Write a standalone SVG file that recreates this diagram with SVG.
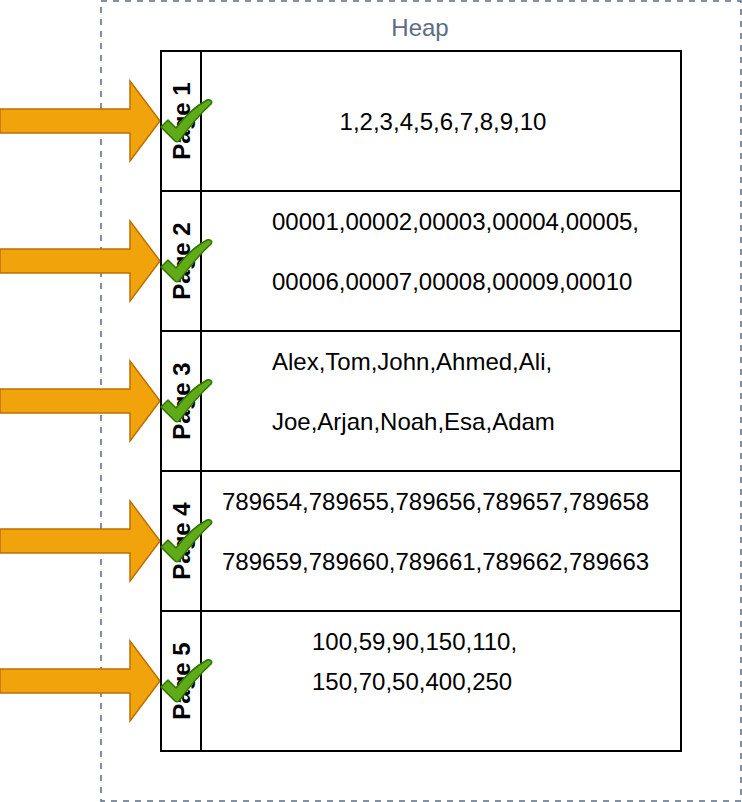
<svg xmlns="http://www.w3.org/2000/svg" width="742" height="802" viewBox="0 0 742 802">
<defs>
<style>
.t{font-family:"Liberation Sans",Arial,sans-serif;font-size:24px;fill:#000;dominant-baseline:central}
.pl{font-family:"Liberation Sans",Arial,sans-serif;font-size:24px;font-weight:bold;fill:#000;text-anchor:middle;dominant-baseline:central}
.cell{fill:#fff;stroke:#000;stroke-width:2}
.arrow{fill:#f0a30a;stroke:#bd7000;stroke-width:1.5}
.check{fill:#60a917;stroke:#2d7600;stroke-width:1.5;stroke-linejoin:round}
</style>
<path id="arr" d="M0,-12 H130 V-40 L160,0 L130,40 V12 H0 Z"/>
<path id="chk" d="M0,6 L7,-1 L15,7 C24,-5 35,-15 46,-21 C49,-22 52,-20 50,-17 C39,-7 28,6 18,20 C17,21 15,21 14,20 Z"/>
</defs>
<rect width="742" height="802" fill="#fff"/>
<g id="heap">
<rect x="101" y="1" width="640" height="800" fill="none" stroke="#5a6c86" stroke-width="1.5" stroke-dasharray="6,6"/>
<text x="420" y="27" style="font-family:'Liberation Sans',Arial,sans-serif;font-size:24px;fill:#5a6c86;text-anchor:middle;dominant-baseline:central">Heap</text>
</g>
<g id="connectors">
<use href="#arr" class="arrow" transform="translate(0,121)"/>
<use href="#arr" class="arrow" transform="translate(0,261)"/>
<use href="#arr" class="arrow" transform="translate(0,401)"/>
<use href="#arr" class="arrow" transform="translate(0,541)"/>
<use href="#arr" class="arrow" transform="translate(0,681)"/>
</g>
<g id="page1">
<rect class="cell" x="161" y="51" width="520" height="140"/>
<line x1="201" y1="51" x2="201" y2="191" stroke="#000" stroke-width="2"/>
<text class="pl" transform="translate(181,121) rotate(-90)">Page 1</text>
<text class="t" x="443" y="121" text-anchor="middle">1,2,3,4,5,6,7,8,9,10</text>
</g>
<g id="page2">
<rect class="cell" x="161" y="191" width="520" height="140"/>
<line x1="201" y1="191" x2="201" y2="331" stroke="#000" stroke-width="2"/>
<text class="pl" transform="translate(181,261) rotate(-90)">Page 2</text>
<text class="t" x="272" y="221">00001,00002,00003,00004,00005,</text>
<text class="t" x="272" y="281">00006,00007,00008,00009,00010</text>
</g>
<g id="page3">
<rect class="cell" x="161" y="331" width="520" height="140"/>
<line x1="201" y1="331" x2="201" y2="471" stroke="#000" stroke-width="2"/>
<text class="pl" transform="translate(181,401) rotate(-90)">Page 3</text>
<text class="t" x="272" y="361">Alex,Tom,John,Ahmed,Ali,</text>
<text class="t" x="272" y="421">Joe,Arjan,Noah,Esa,Adam</text>
</g>
<g id="page4">
<rect class="cell" x="161" y="471" width="520" height="140"/>
<line x1="201" y1="471" x2="201" y2="611" stroke="#000" stroke-width="2"/>
<text class="pl" transform="translate(181,541) rotate(-90)">Page 4</text>
<text class="t" x="222" y="501">789654,789655,789656,789657,789658</text>
<text class="t" x="222" y="561">789659,789660,789661,789662,789663</text>
</g>
<g id="page5">
<rect class="cell" x="161" y="611" width="520" height="140"/>
<line x1="201" y1="611" x2="201" y2="751" stroke="#000" stroke-width="2"/>
<text class="pl" transform="translate(181,681) rotate(-90)">Page 5</text>
<text class="t" x="312" y="641">100,59,90,150,110,</text>
<text class="t" x="312" y="681">150,70,50,400,250</text>
</g>
<g id="checks">
<use href="#chk" class="check" transform="translate(161,121)"/>
<use href="#chk" class="check" transform="translate(161,261)"/>
<use href="#chk" class="check" transform="translate(161,401)"/>
<use href="#chk" class="check" transform="translate(161,541)"/>
<use href="#chk" class="check" transform="translate(161,681)"/>
</g>
</svg>
